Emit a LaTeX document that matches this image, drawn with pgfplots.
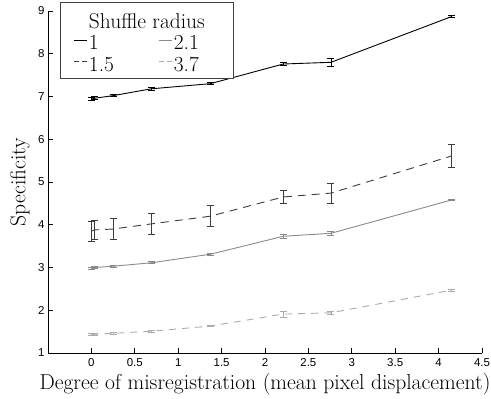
\documentclass[border=0pt]{standalone}
\usepackage{fontspec}
\newfontfamily\ticksf{Liberation Sans}
\usepackage{pgfplots}
\pgfplotsset{compat=1.18}
\definecolor{cA}{HTML}{000000}
\definecolor{cB}{HTML}{3C3C3C}
\definecolor{cC}{HTML}{8A8A8A}
\definecolor{cD}{HTML}{ABABAB}
\newcommand\ls{\rule[-1bp]{0pt}{21bp}}
\pgfplotstableread{
x y e
0 6.94 0.03
0.04 6.96 0.03
0.25 7.02 0.02
0.69 7.18 0.03
1.37 7.30 0.02
2.21 7.76 0.03
2.76 7.80 0.10
4.15 8.87 0.03
}\sA
\pgfplotstableread{
x y e
0 3.85 0.23
0.04 3.88 0.22
0.25 3.90 0.25
0.69 4.02 0.24
1.37 4.20 0.25
2.21 4.65 0.16
2.76 4.74 0.23
4.15 5.61 0.27
}\sB
\pgfplotstableread{
x y e
0 2.98 0.03
0.04 3.00 0.02
0.25 3.03 0.02
0.69 3.11 0.02
1.37 3.31 0.03
2.21 3.73 0.05
2.76 3.80 0.05
4.15 4.58 0.02
}\sC
\pgfplotstableread{
x y e
0 1.43 0.02
0.04 1.44 0.02
0.25 1.46 0.02
0.69 1.51 0.02
1.37 1.63 0.02
2.21 1.91 0.07
2.76 1.94 0.03
4.15 2.47 0.02
}\sD
\begin{document}
\begin{tikzpicture}
\begin{axis}[
  width=434bp, height=342bp, scale only axis,
  xmin=-0.5, xmax=4.5, ymin=1, ymax=9,
  axis lines*=left,
  axis line style={line width=0.9bp},
  xtick={0,0.5,...,4.5}, ytick={1,...,9},
  tick align=inside, major tick length=5bp,
  tick style={line width=0.8bp, black},
  /pgf/number format/assume math mode=true,
  ticklabel style={font=\ticksf\fontsize{11.5}{13}\selectfont},
  xticklabel style={yshift=-2bp},
  xlabel={Degree of misregistration (mean pixel displacement)},
  ylabel={Specificity},
  label style={font=\fontsize{21.7}{24}\selectfont},
  xlabel style={at={(axis description cs:0.5,0)}, anchor=base, yshift=-36bp},
  ylabel style={at={(axis description cs:0,0.5)}, anchor=center, yshift=28bp},
  legend columns=2,
  legend style={at={(rel axis cs:0.028,1.026)}, anchor=north west,
    draw=black!75, line width=0.8bp, fill=white,
    font=\fontsize{21.5}{23}\selectfont,
    inner xsep=13bp, inner ysep=5.5bp, row sep=0bp,
    nodes={inner xsep=1.5bp, inner ysep=0bp},
    /tikz/every even column/.append style={column sep=0bp}},
  legend cell align=left,
  legend image code/.code={\draw[#1] (0bp,0bp) -- (13bp,0bp);},
  error bars/error bar style={solid, line width=0.9bp},
  error bars/error mark options={solid, line width=0.9bp, mark size=3.5bp, rotate=90},
]
\addplot[cA, line width=0.9bp, forget plot, error bars/.cd, y dir=both, y explicit]
  table[x=x, y=y, y error=e] {\sA};
\addplot[cB, line width=0.9bp, dash pattern=on 8bp off 6bp, forget plot, error bars/.cd, y dir=both, y explicit]
  table[x=x, y=y, y error=e] {\sB};
\addplot[cC, line width=0.9bp, forget plot, error bars/.cd, y dir=both, y explicit]
  table[x=x, y=y, y error=e] {\sC};
\addplot[cD, line width=0.9bp, dash pattern=on 7bp off 6bp, forget plot, error bars/.cd, y dir=both, y explicit]
  table[x=x, y=y, y error=e] {\sD};
\addlegendimage{empty legend}\addlegendentry{\ls\makebox[68bp][l]{Shuffle radius}}
\addlegendimage{empty legend}\addlegendentry{\ls\makebox[45.5bp][l]{}}
\addlegendimage{cA, line width=0.9bp}\addlegendentry{\ls\makebox[68bp][l]{1}}
\addlegendimage{cC, line width=0.9bp}\addlegendentry{\ls\makebox[45.5bp][l]{2.1}}
\addlegendimage{cB, line width=0.9bp, dash pattern=on 5bp off 3bp}\addlegendentry{\ls\makebox[68bp][l]{1.5}}
\addlegendimage{cD, line width=0.9bp, dash pattern=on 5bp off 3bp}\addlegendentry{\ls\makebox[45.5bp][l]{3.7}}
\coordinate (O) at (rel axis cs:0,0);
\end{axis}
\pgfresetboundingbox
\path ([shift={(-48bp,-46bp)}]O) rectangle ([shift={(443bp,353bp)}]O);
\end{tikzpicture}
\end{document}
